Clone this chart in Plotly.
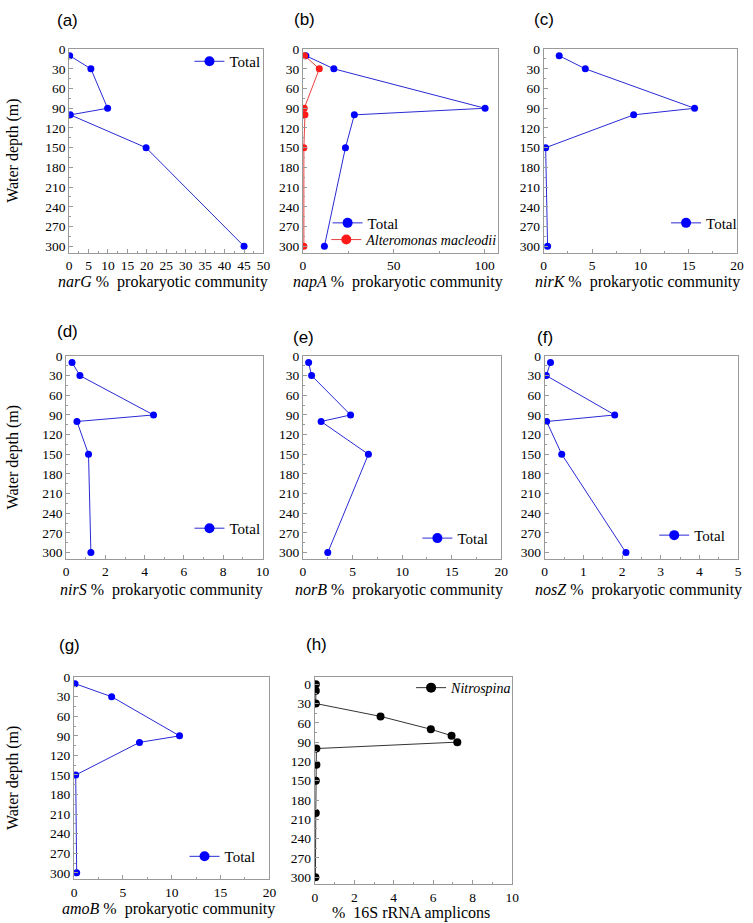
import plotly.graph_objects as go

# ---------------- data ----------------
depth = [10, 30, 90, 100, 150, 300]
narG_total = [0.15, 5.6, 9.9, 0.3, 19.8, 45.0]
napA_total = [1.6, 17.0, 100.3, 28.3, 23.4, 11.8]
napA_alteromonas = [0.9, 9.0, 0.7, 1.1, 0.5, 0.5]
nirK_total = [1.6, 4.3, 15.6, 9.3, 0.2, 0.4]
nirS_total = [0.3, 0.7, 4.45, 0.55, 1.14, 1.26]
norB_total = [0.57, 0.87, 4.8, 1.83, 6.6, 2.5]
nosZ_total = [0.15, 0.04, 1.81, 0.05, 0.44, 2.1]
amoB_total = [0.1, 3.85, 10.8, 6.7, 0.17, 0.27]
nitrospina_depth = [0, 10, 30, 50, 70, 80, 90, 100, 125, 150, 200, 300]
nitrospina = [0.05, 0.05, 0.05, 3.33, 5.88, 6.93, 7.22, 0.08, 0.08, 0.05, 0.05, 0.03]

panel_labels = ["(a)", "(b)", "(c)", "(d)", "(e)", "(f)", "(g)", "(h)"]
x_titles = ["<i>narG</i> %  prokaryotic community",
            "<i>napA</i> %  prokaryotic community",
            "<i>nirK</i> %  prokaryotic community",
            "<i>nirS</i> %  prokaryotic community",
            "<i>norB</i> %  prokaryotic community",
            "<i>nosZ</i> %  prokaryotic community",
            "<i>amoB</i> %  prokaryotic community",
            "%  16S rRNA amplicons"]
y_title = "Water depth (m)"
depth_ticks = [0, 30, 60, 90, 120, 150, 180, 210, 240, 270, 300]

# ---------------- layout helpers ----------------
W, H = 753, 923
def px(x):
    return x / W
def py(y):
    return 1 - y / H

SERIF = "Liberation Serif, Times New Roman, Times, serif"
SANS = "Liberation Sans, Arial, Helvetica, sans-serif"
BLUE_M, BLUE_L = "#0000ff", "#2a2ad6"
RED_M, RED_L = "#ff1a1a", "#e84040"
BLK_M, BLK_L = "#000000", "#333333"
FRAME = "#9a9a9a"

# frame geometry (pixels): left, right, top, bottom
frames = [
    (67, 264, 42.5, 248), (304, 502, 42.5, 248), (548, 744, 42.5, 248),
    (64, 263, 352, 557), (304, 505, 352, 557), (549, 745, 352, 557),
    (72, 270, 676, 880), (316, 516, 676, 885),
]
xranges = [[0, 50], [0, 107.6], [0, 20], [0, 10], [0, 20], [0, 5], [0, 20], [0, 10]]
xdticks = [5, 50, 5, 2, 5, 1, 5, 2]
yranges = [[310, 0]] * 7 + [[311, -11]]
label_pos = [(65, 14), (306, 13), (548, 13), (65, 327), (305, 333), (549, 333), (67, 644), (318, 643)]
xtitle_y = [277, 277, 277, 588, 588, 588, 910, 914]
marker_sizes = [7, 7, 7, 7, 7, 7, 7, 8]

fig = go.Figure()
legend_layouts = {}

def add_series(i, x, y, name, mcol, lcol, legend_name, legend_right, legend_y, fsize):
    ax = "" if i == 0 else str(i + 1)
    fig.add_trace(go.Scatter(
        x=x, y=y, mode="lines+markers", name=name,
        line=dict(color=lcol, width=1),
        marker=dict(color=mcol, size=marker_sizes[i]),
        xaxis="x" + ax, yaxis="y" + ax, showlegend=False))
    # legend-only entry with a slightly larger marker
    fig.add_trace(go.Scatter(
        x=[None], y=[None], mode="lines+markers", name=name,
        line=dict(color=lcol, width=1),
        marker=dict(color=mcol, size=10),
        xaxis="x" + ax, yaxis="y" + ax, showlegend=True, legend=legend_name))
    legend_layouts[legend_name] = dict(
        x=px(legend_right), y=py(legend_y), xanchor="right", yanchor="middle",
        bgcolor="rgba(0,0,0,0)", borderwidth=0,
        font=dict(family=SERIF, size=fsize, color="black"),
        itemsizing="trace", tracegroupgap=0)

add_series(0, narG_total, depth, "Total", BLUE_M, BLUE_L, "legend", 266, 55, 15)
add_series(1, napA_total, depth, "Total", BLUE_M, BLUE_L, "legend2", 406, 218, 15)
add_series(1, napA_alteromonas, depth, "<i>Alteromonas macleodii</i>", RED_M, RED_L, "legend9", 506, 235, 14)
add_series(2, nirK_total, depth, "Total", BLUE_M, BLUE_L, "legend3", 749, 218, 15)
add_series(3, nirS_total, depth, "Total", BLUE_M, BLUE_L, "legend4", 266, 526, 15)
add_series(4, norB_total, depth, "Total", BLUE_M, BLUE_L, "legend5", 497, 536, 15)
add_series(5, nosZ_total, depth, "Total", BLUE_M, BLUE_L, "legend6", 737, 533, 15)
add_series(6, amoB_total, depth, "Total", BLUE_M, BLUE_L, "legend7", 261, 857, 15)
add_series(7, nitrospina, nitrospina_depth, "<i>Nitrospina</i>", BLK_M, BLK_L, "legend8", 521, 687, 14)

layout = dict(
    width=W, height=H, margin=dict(l=0, r=0, t=0, b=0),
    paper_bgcolor="white", plot_bgcolor="white",
    font=dict(family=SERIF, size=13, color="black"),
    annotations=[],
)
layout.update(legend_layouts)

for i, (L, R, T, B) in enumerate(frames):
    ax = "" if i == 0 else str(i + 1)
    common = dict(showline=True, linecolor=FRAME, linewidth=1, mirror=True,
                  ticks="inside", ticklen=4, tickcolor=FRAME, showgrid=False,
                  zeroline=False, tickfont=dict(family=SERIF, size=13.5, color="black"),
                  fixedrange=True)
    layout["xaxis" + ax] = dict(
        domain=[px(L), px(R)], anchor="y" + ax, range=xranges[i],
        tickmode="linear", tick0=0, dtick=xdticks[i],
        minor=dict(ticks="inside", ticklen=2, tickcolor=FRAME, dtick=xdticks[i] / 2),
        **common)
    layout["yaxis" + ax] = dict(
        domain=[py(B), py(T)], anchor="x" + ax, range=yranges[i],
        tickmode="array", tickvals=depth_ticks,
        minor=dict(ticks="inside", ticklen=2, tickcolor=FRAME, tickmode="array",
                   tickvals=[t + 15 for t in depth_ticks[:-1]]),
        **common)
    lx, ly = label_pos[i]
    layout["annotations"].append(dict(
        text=panel_labels[i], x=px(lx), y=py(ly), xref="paper", yref="paper",
        showarrow=False, font=dict(family=SANS, size=17, color="black"),
        xanchor="center", yanchor="middle"))
    layout["annotations"].append(dict(
        text=x_titles[i], x=px((L + R) / 2 - 3), y=py(xtitle_y[i]),
        xref="paper", yref="paper", showarrow=False,
        font=dict(family=SERIF, size=16, color="black"),
        xanchor="center", yanchor="middle"))
    if i in (0, 3, 6):
        layout["annotations"].append(dict(
            text=y_title, x=px(10), y=py((T + B) / 2), xref="paper", yref="paper",
            showarrow=False, textangle=-90,
            font=dict(family=SERIF, size=16, color="black"),
            xanchor="center", yanchor="middle"))

fig.update_layout(**layout)
fig.write_html(
    "out.html", config={"displayModeBar": False},
    post_script=("document.body.style.margin='0px';"
                 "document.body.style.overflow='hidden';"
                 "document.documentElement.style.overflow='hidden';"))
